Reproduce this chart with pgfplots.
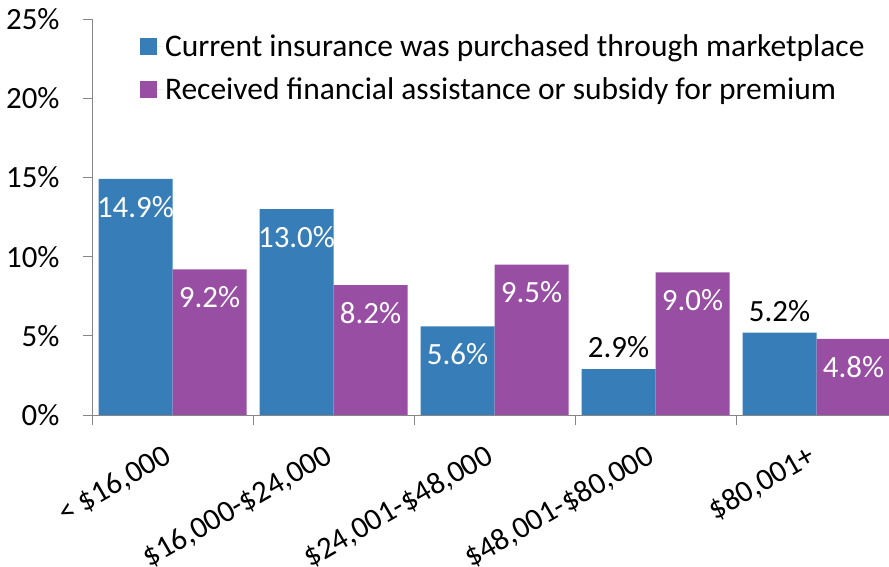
\documentclass[border=0pt]{standalone}
\usepackage{fontspec}
\setmainfont{Carlito}
\usepackage{pgfplots}
\pgfplotsset{compat=1.18}
\definecolor{cblue}{RGB}{55,126,184}
\definecolor{cpurple}{RGB}{152,78,163}
\definecolor{axgray}{RGB}{134,134,134}
\newcommand{\bigf}{\fontsize{31}{36}\selectfont}
\newcommand{\legf}{\fontsize{31.6}{36}\selectfont}
\begin{document}
\begin{tikzpicture}
\begin{axis}[
  at={(92bp,152bp)}, anchor=south west,
  scale only axis, width=797bp, height=396bp,
  xmin=-0.5, xmax=4.45, ymin=0, ymax=25,
  axis lines*=left,
  axis line style={axgray, line width=0.8bp},
  /pgf/number format/assume math mode=true,
  ytick={0,5,10,15,20,25},
  yticklabel={\pgfmathprintnumber{\tick}\%},
  yticklabel style={font=\bigf, xshift=-20bp},
  xtick={0,1,2,3,4},
  xticklabels={{< \$16,000},{\$16,000-\$24,000},{\$24,001-\$48,000},{\$48,001-\$80,000},{\$80,001+}},
  xticklabel style={yshift=-19bp, xshift=-10bp, font=\bigf, rotate=30, anchor=north east, inner sep=0pt},
  minor xtick={-0.5,0.5,1.5,2.5,3.5},
  major x tick style={draw=none},
  tick align=outside,
  major tick length=9bp,
  minor tick length=10bp,
  tick style={axgray, line width=0.8bp},
  ybar=0pt, bar width=74bp,
  nodes near coords={\pgfmathprintnumber[fixed,fixed zerofill,precision=1]{\pgfplotspointmeta}\%},
  every node near coord/.append style={font=\bigf, anchor=center},
  legend style={at={(0.06,0.965)}, anchor=north west, draw=none, fill=none, font=\legf,
    row sep=15bp, inner sep=0pt, column sep=0bp},
  legend cell align=left,
  legend image code/.code={\fill[#1] (0bp,-8.5bp) rectangle (17bp,8.5bp); \path (0bp,0bp) -- (23bp,0bp);},
]
\addplot[fill=cblue, draw=none,
  coordinate style/.condition={y>=5.5}{yshift=-28bp, text=white},
  coordinate style/.condition={y<5.5}{yshift=22bp, text=black}]
  coordinates {(0,14.9) (1,13.0) (2,5.6) (3,2.9) (4,5.2)};
\addplot[fill=cpurple, draw=none,
  every node near coord/.append style={yshift=-28bp, text=white}]
  coordinates {(0,9.2) (1,8.2) (2,9.5) (3,9.0) (4,4.8)};
\legend{Current insurance was purchased through marketplace, Received financial assistance or subsidy for premium}
\end{axis}
\pgfresetboundingbox
\path[use as bounding box] (0,0) rectangle (889bp,567bp);
\end{tikzpicture}
\end{document}
